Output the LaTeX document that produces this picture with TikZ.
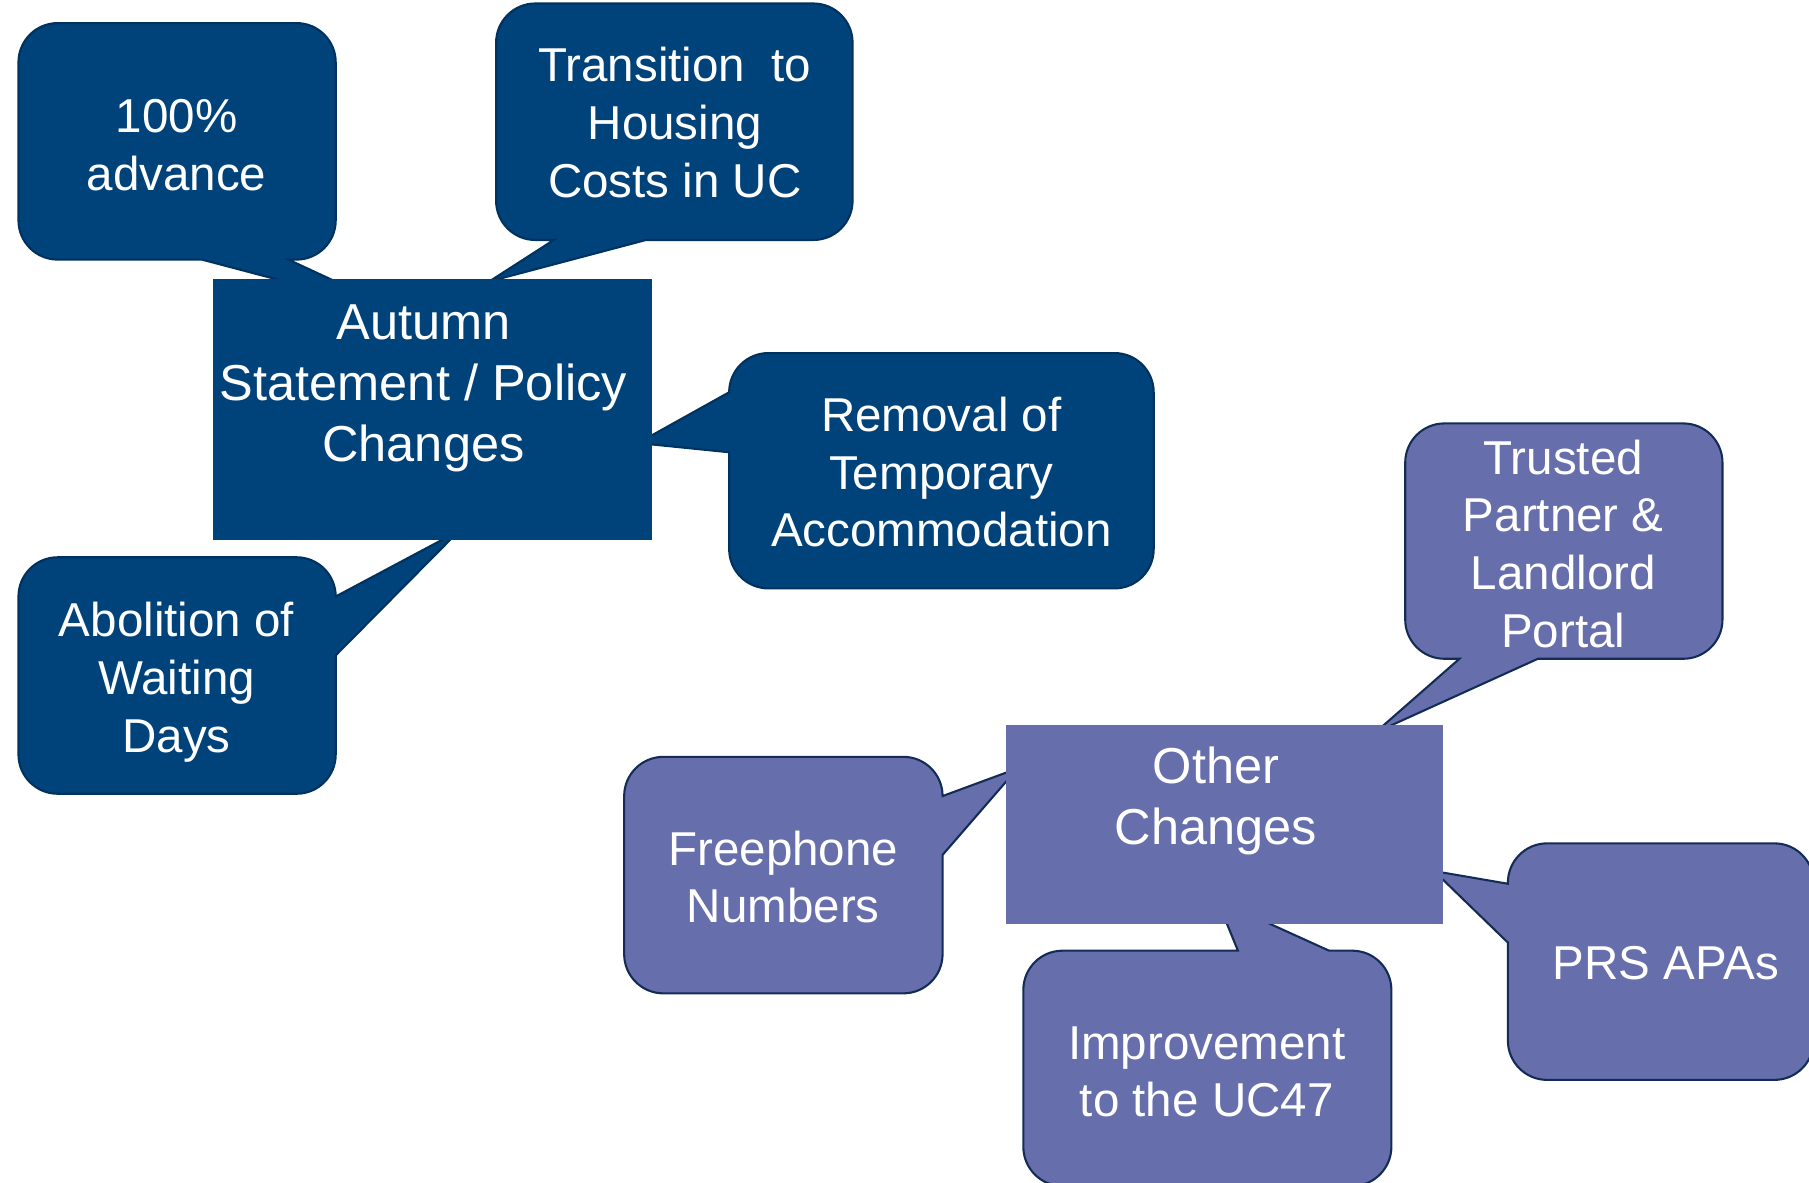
\documentclass[tikz,border=0pt]{standalone}
\usepackage{fontspec}
\setmainfont{Liberation Sans}
\definecolor{navyfill}{RGB}{0,66,122}
\definecolor{navyline}{RGB}{0,50,95}
\definecolor{lilacfill}{RGB}{102,110,172}
\definecolor{lilacline}{RGB}{18,44,86}
\begin{document}
\begin{tikzpicture}[x=0.5pt,y=-0.5pt,
  navycallout/.style={fill=navyfill,draw=navyline,line width=0.9pt},
  lilaccallout/.style={fill=lilacfill,draw=lilacline,line width=0.9pt},
  hubbox/.style={rectangle,draw=none,inner sep=0pt},
  hubtext/.style={text=white,align=center,inner sep=0pt,anchor=base,
    font=\fontsize{21.9}{26.5}\selectfont},
  leaftext/.style={text=white,align=center,inner sep=0pt,anchor=base,
    font=\fontsize{20.6}{25}\selectfont},
  round/.style={rounded corners=17pt}
]
\useasboundingbox (0,0) rectangle (1568,1025);
\clip (0,0) rectangle (1568,1025);

% ---------- policy callouts (drawn first, hub box covers the tail tips)
\path[navycallout] (250,225) [round] -- (291,225) -- (291,20) -- (16,20) -- (16,225)
  [sharp corners] -- (175,225) -- (349,271) -- cycle;
\path[navycallout] (560,208) [round] -- (739,208) -- (739,3) -- (430,3) -- (430,208)
  [sharp corners] -- (480,208) -- (424,244) -- cycle;
\path[navycallout] (632,392) [round] -- (632,510) -- (1000,510) -- (1000,306) -- (632,306)
  [sharp corners] -- (632,340) -- (553,384) -- cycle;
\path[navycallout] (291,568) [round] -- (291,688) -- (16,688) -- (16,483) -- (291,483)
  [sharp corners] -- (291,517) -- (398,460) -- cycle;

% ---------- other-change callouts
\path[lilaccallout] (1333,571) [round] -- (1493,571) -- (1493,367) -- (1218,367) -- (1218,571)
  [sharp corners] -- (1265,571) -- (1192,635) -- cycle;
\path[lilaccallout] (817,741) [round] -- (817,861) -- (541,861) -- (541,656) -- (817,656)
  [sharp corners] -- (817,690) -- (882,666) -- cycle;
\path[lilaccallout] (1073,824) [round] -- (887,824) -- (887,1028) -- (1206,1028) -- (1206,824)
  [sharp corners] -- (1152,824) -- (1055,780) -- cycle;
\path[lilaccallout] (1307,817) [round] -- (1307,936) -- (1572,936) -- (1572,731) -- (1307,731)
  [sharp corners] -- (1307,766) -- (1243,755) -- cycle;

% ---------- hub boxes
\node[hubbox,fill=navyfill,minimum width=190pt,minimum height=113pt] (policy) at (375,355) {};
\node[hubbox,fill=lilacfill,minimum width=189.5pt,minimum height=86.5pt] (other) at (1061.5,714.5) {};

% ---------- labels (anchored on the baseline of the last line)
\node[hubtext] (policytext) at (367,400) {Autumn\\Statement / Policy\\Changes};
\node[hubtext] (othertext) at (1054,732) {Other\\Changes};

\node[leaftext] (advance) at (153,165) {100\%\\advance};
\node[leaftext] (transition) at (585,171) {Transition\ \ to\\Housing\\Costs in UC};
\node[leaftext] (removal) at (816,474) {Removal of\\Temporary\\Accommodation};
\node[leaftext] (abolition) at (153,652) {Abolition of\\Waiting\\Days};

\node[leaftext] (trusted) at (1355,561) {Trusted\\Partner \&\\Landlord\\Portal};
\node[leaftext] (freephone) at (679,800) {Freephone\\Numbers};
\node[leaftext] (uc47) at (1046,968) {Improvement\\to the UC47};
\node[leaftext] (apas) at (1444,849) {PRS APAs};
\end{tikzpicture}
\end{document}
